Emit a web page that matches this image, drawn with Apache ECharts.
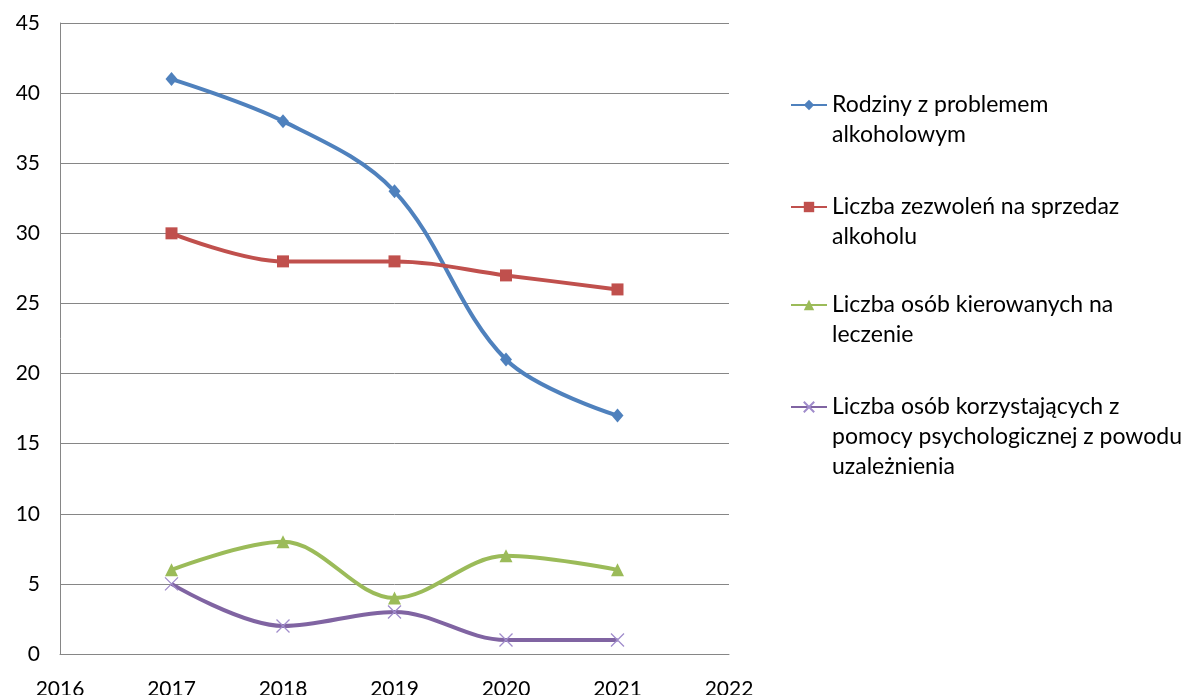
<!DOCTYPE html>
<html><head><meta charset="utf-8">
<script src="https://cdn.jsdelivr.net/npm/echarts@6/dist/echarts.min.js"></script>
<style>html,body{margin:0;padding:0;background:#fff}#c{width:1183px;height:695px}</style>
</head><body><div id="c"></div>
<script>
const years = [2017, 2018, 2019, 2020, 2021];
const rodziny = [41, 38, 33, 21, 17];
const zezwolenia = [30, 28, 28, 27, 26];
const leczenie = [6, 8, 4, 7, 6];
const pomoc = [5, 2, 3, 1, 1];
const names = [
  'Rodziny z problemem alkoholowym',
  'Liczba zezwoleń na sprzedaz alkoholu',
  'Liczba osób kierowanych na leczenie',
  'Liczba osób korzystających z pomocy psychologicznej z powodu uzależnienia'
];
const legendLines = [
  ['Rodziny z problemem', 'alkoholowym'],
  ['Liczba zezwoleń na sprzedaz', 'alkoholu'],
  ['Liczba osób kierowanych na', 'leczenie'],
  ['Liczba osób korzystających z', 'pomocy psychologicznej z powodu', 'uzależnienia']
];
const xMin = 2016, xMax = 2022, xStep = 1;
const yMin = 0, yMax = 45, yStep = 5;

const FONT = 'Lato';
const colors = ['#4F81BD', '#C0504D', '#9BBB59', '#8064A2'];
const symbols = ['diamond', 'rect', 'triangle', 'path://M0,0L10,10M0,10L10,0'];
const symbolSizes = [[12, 14], 12, 13, 13];
const values = [rodziny, zezwolenia, leczenie, pomoc];

const LH = 30;
const firstLineCenters = [105, 207, 305, 407];

const legends = names.map((n, i) => {
  const k = legendLines[i].length;
  const pad = new Array(k - 1).fill(' ');
  return {
    data: [n], orient: 'vertical', left: 790,
    top: firstLineCenters[i] - (2 * k - 1) * LH / 2,
    padding: 0, itemWidth: 36, itemHeight: 13,
    formatter: () => pad.concat(legendLines[i]).join('\n'),
    textStyle: { fontFamily: FONT, fontSize: 23, lineHeight: LH, color: '#000' }
  };
});

const series = names.map((n, i) => ({
  name: n, type: 'line', smooth: 0.35,
  data: years.map((y, j) => [y, values[i][j]]),
  symbol: symbols[i], symbolSize: symbolSizes[i],
  lineStyle: { color: colors[i], width: 4 },
  itemStyle: i === 3 ? { color: colors[i], borderColor: '#a08ccb', borderWidth: 1.3 } : { color: colors[i] },
  emphasis: { disabled: true }
}));

const chart = echarts.init(document.getElementById('c'));
chart.setOption({
  animation: false,
  backgroundColor: '#fff',
  grid: { left: 60, right: 454, top: 23, bottom: 41, containLabel: false, outerBoundsMode: 'none' },
  legend: legends,
  xAxis: {
    type: 'value', min: xMin, max: xMax, interval: xStep,
    axisLine: { show: true, lineStyle: { color: '#868686' } },
    axisTick: { show: false },
    splitLine: { show: false },
    axisLabel: { color: '#000', fontFamily: FONT, fontSize: 21, margin: 25, formatter: v => String(v) }
  },
  yAxis: {
    type: 'value', min: yMin, max: yMax, interval: yStep,
    axisLine: { show: true, lineStyle: { color: '#868686' } },
    axisTick: { show: false },
    splitLine: { show: true, lineStyle: { color: '#868686', width: 1 } },
    axisLabel: { color: '#000', fontFamily: FONT, fontSize: 21, margin: 20 }
  },
  series: series
});
</script></body></html>
